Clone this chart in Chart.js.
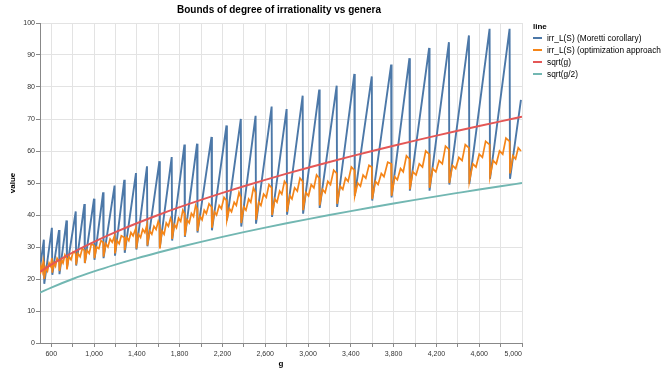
<!DOCTYPE html>
<html>
<head>
<meta charset="utf-8">
<script src="https://cdn.jsdelivr.net/npm/chart.js@4.4.1/dist/chart.umd.min.js"></script>
<style>
  html, body { margin: 0; padding: 0; background: #fff; overflow: hidden; }
  #wrap { position: relative; width: 661px; height: 373px; font-family: "Liberation Sans", Arial, sans-serif; }
  #title { position: absolute; left: 0; top: 4px; width: 558px; text-align: center; font-weight: bold; font-size: 10px; line-height: 12px; color: #000; }
  #legend { position: absolute; left: 533px; top: 21px; width: 128px; overflow: hidden; white-space: nowrap; color: #000; }
  #legend .head { font-weight: bold; font-size: 8px; line-height: 11px; }
  #legend .row { font-size: 8.3px; line-height: 12px; height: 12px; }
  #legend .sym { display: inline-block; width: 9px; height: 2px; vertical-align: middle; margin-right: 5px; position: relative; top: -1px; }
</style>
</head>
<body>
<div id="wrap">
  <canvas id="chart"></canvas>
  <div id="title">Bounds of degree of irrationality vs genera</div>
  <div id="legend"></div>
</div>
<script>
// series names / colours
const seriesNames = ['irr_L(S) (Moretti corollary)', 'irr_L(S) (optimization approach)', 'sqrt(g)', 'sqrt(g/2)'];
const seriesColors = ['#4c78a8', '#f58518', '#e45756', '#72b7b2'];

// Moretti corollary (sawtooth)
const moretti_g = [495, 531, 535, 606, 610, 673, 677, 743, 747, 829, 833, 910, 914, 1000, 1004, 1085, 1089, 1192, 1196, 1283, 1287, 1392, 1396, 1495, 1499, 1611, 1615, 1726, 1730, 1845, 1849, 1963, 1967, 2098, 2102, 2238, 2242, 2372, 2376, 2510, 2514, 2660, 2664, 2800, 2804, 2950, 2954, 3105, 3109, 3268, 3272, 3433, 3437, 3596, 3600, 3777, 3781, 3948, 3952, 4132, 4136, 4317, 4321, 4504, 4508, 4697, 4701, 4884, 4888, 4990];
const moretti_v = [23.4, 32.3, 18.5, 36, 21.3, 35.3, 21.5, 38.3, 23.5, 41.1, 24.2, 43.4, 25, 45.1, 26, 47.1, 26.5, 49.2, 27.3, 51, 28.2, 53.1, 29.2, 55.2, 30.2, 56.8, 29.8, 58.1, 32, 62, 33.2, 62.3, 34.5, 64.4, 35.2, 68, 38.3, 70, 36.4, 71, 37.3, 73.9, 39.4, 73.1, 40.1, 77.3, 40.4, 79.2, 42.2, 80.4, 42.5, 84.1, 46, 83.3, 44.5, 87, 45.5, 89, 47.6, 92.2, 47.6, 94, 49.5, 96.1, 49.7, 98.2, 51.3, 98.2, 51.3, 76];

// optimization approach (noisy, [g, value])
const optimization = [
  [495,21.5],[505,24],[515,22.5],[525,25.5],[531,24],
  [535,20],[550,23.5],[565,22.5],[580,25],[595,24],[606,26.5],
  [610,22],[625,25],[640,24],[655,26.5],[673,25.5],
  [677,22.5],[695,26],[710,25],[728,27.5],[743,26.5],
  [747,23],[765,27],[785,26],[805,28.5],[829,28],
  [833,24.5],[850,28],[870,27],[890,29.5],[910,29],
  [914,25],[935,29],[955,28],[975,31],[1000,30.5],
  [1004,26.5],[1025,30],[1045,29.5],[1065,32],[1085,31.5],
  [1089,27],[1110,31],[1130,30],[1150,32.5],[1170,31.5],[1192,33.5],
  [1196,28],[1215,32],[1235,31],[1255,33.5],[1283,33],
  [1287,29],[1305,33],[1325,32],[1345,34.5],[1365,33.5],[1392,36],
  [1396,29.5],[1415,34],[1435,33],[1455,35.5],[1475,34.5],[1495,37],
  [1499,30.5],[1520,35],[1540,34],[1560,36.5],[1580,35.5],[1600,38],[1611,37],
  [1615,29.5],[1635,35],[1655,34],[1675,37.5],[1695,36.5],[1715,39],[1726,38],
  [1730,32.5],[1750,37],[1770,36],[1790,39],[1810,38],[1830,41.5],[1845,40.5],
  [1849,33.5],[1870,38.5],[1890,37.5],[1910,40.5],[1930,39.5],[1950,43],[1963,42],
  [1967,35],[1990,39.5],[2010,38.5],[2030,41.5],[2050,40.5],[2075,43.5],[2098,42.5],
  [2102,36],[2125,41],[2145,40],[2170,43],[2190,42],[2215,45.5],[2238,44.5],
  [2242,38.5],[2265,42],[2285,41],[2310,44],[2330,43],[2355,47],[2372,45.5],
  [2376,37.5],[2400,42.5],[2420,41.5],[2445,45],[2465,44],[2490,48.5],[2510,47],
  [2514,38.5],[2540,44],[2560,43],[2585,46.5],[2610,45.5],[2635,49.5],[2660,48.5],
  [2664,40],[2690,45],[2710,44],[2735,47.5],[2755,46.5],[2780,50.5],[2800,49.5],
  [2804,41],[2830,46],[2850,45],[2875,48.5],[2900,47.5],[2925,51.5],[2950,50.5],
  [2954,41.5],[2980,47],[3005,46],[3030,49.5],[3055,48.5],[3080,52.5],[3105,51.5],
  [3109,43],[3135,48],[3160,47],[3185,50.5],[3210,49.5],[3240,54],[3268,53],
  [3272,43.5],[3300,49],[3325,48],[3350,51.5],[3375,50.5],[3405,55],[3433,54],
  [3437,46],[3465,50],[3490,49],[3515,52.5],[3540,51.5],[3570,55.5],[3596,55],
  [3600,45],[3630,50.5],[3655,49.5],[3685,53],[3710,52],[3745,56.5],[3777,56],
  [3781,46],[3810,52],[3835,51],[3865,54.5],[3890,53.5],[3920,58.5],[3948,57.5],
  [3952,48],[3980,53.5],[4010,52.5],[4040,56],[4070,55],[4100,60],[4132,59],
  [4136,48.5],[4165,54.5],[4195,53.5],[4225,57],[4255,56],[4285,61.5],[4317,60.5],
  [4321,50],[4350,55.5],[4380,54.5],[4410,58],[4440,57],[4470,62],[4504,61],
  [4508,50.5],[4540,56],[4570,55],[4600,59],[4630,58],[4660,63],[4697,62],
  [4701,52],[4730,57],[4760,56],[4790,60],[4820,59],[4850,64],[4884,63],
  [4888,53],[4915,58.5],[4940,57.5],[4965,61],[4990,60]
];

// reference curves
const curve_g = [495, 600, 800, 1000, 1200, 1400, 1600, 1800, 2000, 2200, 2400, 2600, 2800, 3000, 3200, 3400, 3600, 3800, 4000, 4200, 4400, 4600, 4800, 5000];
const sqrtG = [22.25, 24.49, 28.28, 31.62, 34.64, 37.42, 40.0, 42.43, 44.72, 46.90, 48.99, 50.99, 52.92, 54.77, 56.57, 58.31, 60.0, 61.64, 63.25, 64.81, 66.33, 67.82, 69.28, 70.71];
const sqrtHalfG = [15.73, 17.32, 20.0, 22.36, 24.49, 26.46, 28.28, 30.0, 31.62, 33.17, 34.64, 36.06, 37.42, 38.73, 40.0, 41.23, 42.43, 43.59, 44.72, 45.83, 46.90, 47.96, 48.99, 50.0];

// axes
const xTicks = [495, 600, 800, 1000, 1200, 1400, 1600, 1800, 2000, 2200, 2400, 2600, 2800, 3000, 3200, 3400, 3600, 3800, 4000, 4200, 4400, 4600, 4800, 5000];
const xLabels = [600, 1000, 1400, 1800, 2200, 2600, 3000, 3400, 3800, 4200, 4600, 5000];

const pairs = (xs, ys) => xs.map((x, i) => ({ x: x, y: ys[i] }));
const font = '"Liberation Sans", Arial, sans-serif';

new Chart(document.getElementById('chart'), {
  type: 'line',
  data: {
    datasets: [
      { label: seriesNames[0], data: pairs(moretti_g, moretti_v), borderColor: seriesColors[0], borderWidth: 1.9, order: 4 },
      { label: seriesNames[1], data: optimization.map(p => ({ x: p[0], y: p[1] })), borderColor: seriesColors[1], borderWidth: 1.7, order: 3 },
      { label: seriesNames[2], data: pairs(curve_g, sqrtG), borderColor: seriesColors[2], borderWidth: 1.9, cubicInterpolationMode: 'monotone', order: 2 },
      { label: seriesNames[3], data: pairs(curve_g, sqrtHalfG), borderColor: seriesColors[3], borderWidth: 1.9, cubicInterpolationMode: 'monotone', order: 1 }
    ]
  },
  options: {
    responsive: true,
    maintainAspectRatio: false,
    animation: false,
    layout: { padding: { left: 0, right: 139, top: 23, bottom: 0 } },
    elements: { point: { radius: 0 }, line: { fill: false } },
    plugins: { legend: { display: false }, tooltip: { enabled: false } },
    scales: {
      x: {
        type: 'linear', min: 495, max: 5000,
        afterBuildTicks: s => { s.ticks = xTicks.map(v => ({ value: v })); },
        afterFit: s => { s.height = 30; },
        grid: {
          color: c => (c.tick && c.tick.value === 495) ? 'rgba(0,0,0,0)' : '#e3e3e3',
          tickColor: c => (c.tick && c.tick.value === 495) ? 'rgba(0,0,0,0)' : '#888',
          tickLength: 4, lineWidth: 1
        },
        border: { color: '#888', width: 1 },
        ticks: {
          autoSkip: false, maxRotation: 0, minRotation: 0, align: 'inner', padding: 3,
          color: '#333', font: { family: font, size: 7 },
          callback: v => xLabels.includes(v) ? v.toLocaleString('en-US') : ''
        },
        title: { display: true, text: 'g', color: '#000', font: { family: font, size: 8, weight: 'bold' }, padding: { top: 0, bottom: 4 } }
      },
      y: {
        min: 0, max: 100,
        afterFit: s => { s.width = 40; },
        grid: { color: '#e3e3e3', tickColor: '#888', tickLength: 4 },
        border: { color: '#888', width: 1 },
        ticks: { stepSize: 10, padding: 1, color: '#333', font: { family: font, size: 7 } },
        title: { display: true, text: 'value', color: '#000', font: { family: font, size: 8, weight: 'bold' }, padding: { top: 8, bottom: 0 } }
      }
    }
  }
});

// legend (outside the plot, like the original)
const legend = document.getElementById('legend');
legend.innerHTML = '<div class="head">line</div>' + seriesNames.map((n, i) =>
  '<div class="row"><span class="sym" style="background:' + seriesColors[i] + '"></span>' + n + '</div>').join('');
</script>
</body>
</html>
